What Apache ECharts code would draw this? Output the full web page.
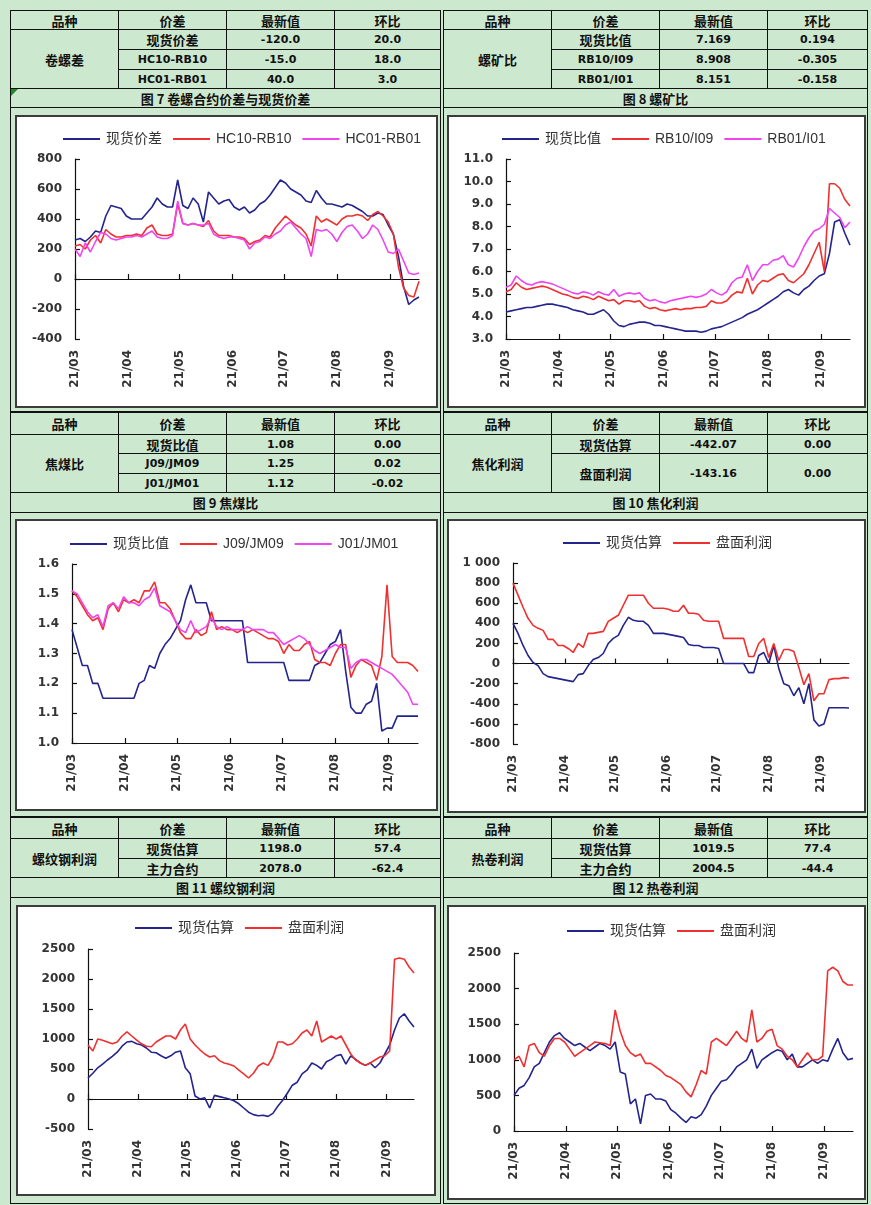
<!DOCTYPE html>
<html><head><meta charset="utf-8">
<script src="https://cdn.jsdelivr.net/npm/echarts/dist/echarts.min.js"></script>
<style>
html,body{margin:0;padding:0;}
body{width:871px;height:1205px;overflow:hidden;position:relative;background:#cce8cf;font-family:"DejaVu Sans","Noto Sans CJK SC",sans-serif;}
.cell{position:absolute;box-sizing:border-box;border:1px solid #111;display:flex;align-items:center;justify-content:center;color:#111;font-size:11px;font-weight:bold;white-space:nowrap;}
.cjk{font-family:"Noto Sans CJK SC",sans-serif;font-size:13px;font-weight:bold;}
.box{position:absolute;box-sizing:border-box;border:2px solid #3c3c3c;background:#fff;}
.chart{position:absolute;left:0;top:0;right:0;bottom:0;}
.tri{position:absolute;width:0;height:0;border-top:7px solid #1f8a2a;border-right:7px solid transparent;}
</style></head>
<body>
<script>
// ---------- axis categories / tick labels ----------
const monthLabels = ['21/03','21/04','21/05','21/06','21/07','21/08','21/09'];
const monthStartDays = [0,31,61,92,122,153,184];
const dayCount = 202;
const sampleStep = 3;

// ---------- series values (one value every 3 days from 21/03/01) ----------
const c7Spot = [260,270,250,280,320,310,420,490,480,470,
  420,400,400,400,440,480,540,500,480,480,
  660,490,470,540,500,380,580,540,500,520,
  530,480,460,480,440,460,500,520,560,610,
  660,640,600,580,560,520,510,590,540,500,
  500,490,480,500,490,470,450,420,420,440,
  430,360,300,150,-50,-170,-140,-120];
const c7HC10 = [220,230,200,260,290,240,330,300,280,280,
  290,290,300,290,340,360,300,290,290,300,
  500,370,360,370,360,350,390,320,290,290,
  290,280,280,270,230,250,260,290,280,340,
  380,420,390,360,340,300,220,420,380,400,
  380,360,400,420,420,430,420,390,430,450,
  420,380,300,80,-60,-110,-120,-15];
const c7HC01 = [200,150,240,180,250,310,300,270,260,270,
  280,280,290,280,300,320,280,270,270,290,
  520,370,360,370,360,360,370,300,280,270,
  280,280,270,260,200,240,250,280,270,300,
  320,360,380,340,300,270,150,330,320,330,
  300,250,310,350,360,320,270,300,360,330,
  260,180,170,200,120,40,30,40];

const c8Spot = [4.2,4.25,4.3,4.35,4.4,4.4,4.45,4.5,4.55,4.55,
  4.5,4.45,4.4,4.3,4.25,4.2,4.1,4.1,4.2,4.3,
  4.1,3.8,3.6,3.55,3.65,3.7,3.75,3.75,3.7,3.6,
  3.6,3.55,3.5,3.45,3.4,3.35,3.35,3.35,3.3,3.35,
  3.45,3.5,3.55,3.65,3.75,3.85,3.95,4.1,4.2,4.3,
  4.45,4.6,4.75,4.9,5.1,5.2,5.05,4.95,5.2,5.35,
  5.6,5.8,5.9,6.8,8.2,8.3,7.7,7.17];
const c8RB10 = [5.1,5.2,5.5,5.3,5.2,5.25,5.3,5.35,5.3,5.2,
  5.1,5.0,4.95,4.85,4.8,4.9,4.85,4.75,4.9,4.8,
  4.7,4.75,4.55,4.7,4.7,4.65,4.7,4.45,4.35,4.4,
  4.3,4.25,4.3,4.35,4.3,4.35,4.35,4.4,4.4,4.45,
  4.7,4.6,4.6,4.7,4.95,5.1,5.05,5.7,5.0,5.4,
  5.6,5.55,5.7,5.85,5.9,5.6,5.5,5.7,5.9,6.3,
  6.8,7.3,6.0,9.9,9.9,9.7,9.2,8.91];
const c8RB01 = [5.3,5.4,5.8,5.6,5.45,5.4,5.5,5.55,5.5,5.45,
  5.35,5.25,5.15,5.05,5.0,5.1,5.05,4.95,5.1,5.0,
  4.95,5.2,4.9,5.0,5.05,5.0,5.05,4.8,4.7,4.75,
  4.65,4.6,4.7,4.75,4.8,4.85,4.9,4.85,4.9,5.0,
  5.2,5.05,4.95,5.1,5.5,5.7,5.75,6.3,5.6,6.0,
  6.3,6.3,6.5,6.55,6.7,6.3,6.2,6.6,7.1,7.5,
  7.8,7.9,8.1,8.8,8.6,8.4,7.95,8.2];

const c9Spot = [1.38,1.32,1.26,1.26,1.2,1.2,1.15,1.15,1.15,1.15,
  1.15,1.15,1.15,1.2,1.21,1.26,1.25,1.3,1.33,1.35,
  1.38,1.41,1.48,1.53,1.47,1.47,1.47,1.41,1.41,1.41,
  1.41,1.41,1.41,1.41,1.27,1.27,1.27,1.27,1.27,1.27,
  1.27,1.27,1.21,1.21,1.21,1.21,1.21,1.26,1.27,1.3,
  1.33,1.34,1.38,1.24,1.12,1.1,1.1,1.13,1.14,1.2,
  1.04,1.05,1.05,1.09,1.09,1.09,1.09,1.09];
const c9J09 = [1.51,1.49,1.46,1.43,1.41,1.42,1.38,1.45,1.47,1.44,
  1.48,1.47,1.48,1.47,1.51,1.51,1.54,1.47,1.47,1.45,
  1.41,1.37,1.35,1.35,1.38,1.36,1.37,1.44,1.38,1.39,
  1.38,1.38,1.37,1.38,1.37,1.38,1.37,1.36,1.35,1.35,
  1.34,1.30,1.33,1.31,1.31,1.33,1.34,1.28,1.27,1.27,
  1.26,1.3,1.33,1.33,1.22,1.26,1.28,1.27,1.26,1.21,
  1.29,1.53,1.29,1.27,1.27,1.27,1.26,1.24];
const c9J01 = [1.51,1.50,1.47,1.44,1.42,1.43,1.39,1.46,1.47,1.45,
  1.49,1.47,1.47,1.46,1.48,1.49,1.52,1.46,1.45,1.44,
  1.41,1.38,1.37,1.41,1.37,1.38,1.39,1.42,1.39,1.38,
  1.39,1.38,1.38,1.38,1.39,1.38,1.38,1.38,1.37,1.37,
  1.35,1.33,1.34,1.35,1.36,1.35,1.33,1.31,1.30,1.31,
  1.32,1.33,1.32,1.32,1.25,1.27,1.28,1.28,1.27,1.26,
  1.25,1.24,1.23,1.21,1.19,1.17,1.13,1.13];

const c10Spot = [400,300,180,80,10,-20,-100,-130,-140,-150,
  -160,-170,-180,-110,-100,-20,40,60,100,200,
  250,280,380,460,430,420,420,380,300,300,
  300,290,280,270,260,190,180,180,160,160,
  160,150,0,0,0,0,0,-90,-90,80,
  110,0,180,-50,-200,-220,-320,-240,-400,-200,
  -560,-620,-600,-440,-440,-440,-440,-442];
const c10Disk = [800,680,560,450,380,350,330,240,240,180,
  180,150,110,200,160,300,300,310,320,420,
  450,480,580,680,680,680,680,600,550,550,
  550,540,520,520,580,500,500,490,430,420,
  420,420,250,250,250,250,250,70,70,200,
  250,60,200,30,140,140,120,-40,-210,-100,
  -370,-300,-300,-160,-150,-150,-140,-143];

const c11Spot = [350,430,520,580,650,710,780,880,950,960,
  920,900,850,780,770,720,680,720,780,800,
  520,420,50,0,20,-150,60,40,20,0,
  -30,-80,-150,-220,-260,-280,-270,-290,-240,-120,
  -20,100,230,280,420,480,600,560,500,620,
  660,720,740,580,720,660,600,560,600,520,
  600,750,900,1150,1350,1420,1300,1200];
const c11Disk = [900,800,1000,980,950,920,950,1050,1120,1050,
  980,920,880,870,950,1000,1050,1050,1000,1150,
  1250,1000,900,820,750,700,720,640,600,580,
  550,480,420,350,430,550,600,560,700,950,
  950,900,920,1000,1100,1150,1050,1300,950,1000,
  1050,1000,1050,900,750,650,600,560,600,650,
  700,720,800,2330,2350,2330,2200,2100];

const c12Spot = [500,600,640,750,900,950,1100,1250,1340,1380,
  1300,1250,1200,1230,1180,1130,1180,1230,1200,1150,
  1250,830,800,380,450,100,500,520,450,450,
  420,300,250,180,120,200,180,230,350,500,
  600,700,720,800,900,950,1000,1150,880,1000,
  1050,1100,1140,1120,1000,1080,900,900,950,1000,
  950,1000,980,1150,1300,1100,1000,1020];
const c12Disk = [1000,1050,900,1200,1230,1100,1050,1200,1300,1300,
  1250,1150,1050,1100,1150,1200,1250,1240,1230,1200,
  1700,1400,1200,1100,1050,1080,950,950,900,850,
  780,750,700,650,550,480,650,850,800,1250,
  1300,1250,1200,1300,1400,1300,1250,1700,1250,1300,
  1400,1430,1200,1150,1050,1000,900,1000,1100,1000,
  1000,1050,2250,2300,2250,2100,2050,2050];

// ---------- table texts ----------
const tableHeaders = ['品种','价差','最新值','环比'];
const t7Name = '卷螺差', t7Rows = [['现货价差','-120.0','20.0'],['HC10-RB10','-15.0','18.0'],['HC01-RB01','40.0','3.0']], t7Title = '图 7 卷螺合约价差与现货价差';
const t8Name = '螺矿比', t8Rows = [['现货比值','7.169','0.194'],['RB10/I09','8.908','-0.305'],['RB01/I01','8.151','-0.158']], t8Title = '图 8 螺矿比';
const t9Name = '焦煤比', t9Rows = [['现货比值','1.08','0.00'],['J09/JM09','1.25','0.02'],['J01/JM01','1.12','-0.02']], t9Title = '图 9 焦煤比';
const t10Name = '焦化利润', t10Rows = [['现货估算','-442.07','0.00'],['盘面利润','-143.16','0.00']], t10Title = '图 10 焦化利润';
const t11Name = '螺纹钢利润', t11Rows = [['现货估算','1198.0','57.4'],['主力合约','2078.0','-62.4']], t11Title = '图 11 螺纹钢利润';
const t12Name = '热卷利润', t12Rows = [['现货估算','1019.5','77.4'],['主力合约','2004.5','-44.4']], t12Title = '图 12 热卷利润';

// ---------- layout helpers ----------
const isCjk = s => /[\u4e00-\u9fff]/.test(s);
function cell(x1,y1,x2,y2,text){
  const d=document.createElement('div');
  d.className='cell'+(text && isCjk(text)?' cjk':'');
  d.style.left=x1+'px';d.style.top=y1+'px';
  d.style.width=(x2-x1+1)+'px';d.style.height=(y2-y1+1)+'px';
  if(text) d.textContent=text;
  document.body.appendChild(d);
}
function table(cols,hdr,rowYs,name,rows,titleY,title,chartY){
  tableHeaders.forEach((h,k)=>cell(cols[k],hdr[0],cols[k+1],hdr[1],h));
  cell(cols[0],rowYs[0][0],cols[1],rowYs[rowYs.length-1][1],name);
  rows.forEach((r,i)=>r.forEach((t,k)=>cell(cols[k+1],rowYs[i][0],cols[k+2],rowYs[i][1],t)));
  cell(cols[0],titleY[0],cols[4],titleY[1],title);
  cell(cols[0],chartY[0],cols[4],chartY[1],'');
}
const L=[10,118,226,334,440], R=[443,551,659,767,867];
table(L,[10,29],[[29,49],[49,69],[69,88]],t7Name,t7Rows,[88,107],t7Title,[107,411]);
table(R,[10,29],[[29,49],[49,69],[69,88]],t8Name,t8Rows,[88,107],t8Title,[107,411]);
table(L,[412,434],[[434,453],[453,473],[473,492]],t9Name,t9Rows,[492,512],t9Title,[512,816]);
table(R,[412,434],[[434,453],[453,492]],t10Name,t10Rows,[492,512],t10Title,[512,816]);
table(L,[817,838],[[838,858],[858,877]],t11Name,t11Rows,[877,897],t11Title,[897,1203]);
table(R,[817,838],[[838,858],[858,877]],t12Name,t12Rows,[877,897],t12Title,[897,1203]);
const tri=document.createElement('div');tri.className='tri';tri.style.left='11px';tri.style.top='89px';document.body.appendChild(tri);

// ---------- charts ----------
const NAVY='#24248e', RED='#f03030', MAG='#f044f0';
const dayCategories = Array.from({length:dayCount},()=> '');
monthStartDays.forEach((d,k)=>{dayCategories[d]=monthLabels[k];});
const isMonth = (i,v) => v !== '';

const chartDefs = [
 {box:[15,115,438,408], plot:[75,159,419,339], y:[-400,800,200], dec:0, leg:[58,135],
  series:[['现货价差',c7Spot,NAVY],['HC10-RB10',c7HC10,RED],['HC01-RB01',c7HC01,MAG]]},
 {box:[447,115,866,408], plot:[506,159,850,339], y:[3,11,1], dec:1, leg:[497,135],
  series:[['现货比值',c8Spot,NAVY],['RB10/I09',c8RB10,RED],['RB01/I01',c8RB01,MAG]]},
 {box:[15,519,438,811], plot:[72,564,418,743], y:[1.0,1.6,0.1], dec:1, leg:[65,540],
  series:[['现货比值',c9Spot,NAVY],['J09/JM09',c9J09,RED],['J01/JM01',c9J01,MAG]]},
 {box:[447,519,866,813], plot:[513,563,849,744], y:[-800,1000,200], dec:0, leg:[558,539], space1000:true,
  series:[['现货估算',c10Spot,NAVY],['盘面利润',c10Disk,RED]]},
 {box:[16,905,436,1196], plot:[88,949,414,1129], y:[-500,2500,500], dec:0, leg:[130,924],
  series:[['现货估算',c11Spot,NAVY],['盘面利润',c11Disk,RED]]},
 {box:[447,905,866,1200], plot:[514,953,853,1131], y:[0,2500,500], dec:0, leg:[562,927],
  series:[['现货估算',c12Spot,NAVY],['盘面利润',c12Disk,RED]]}
];

const axisFont = {fontFamily:'DejaVu Sans', fontSize:12, fontWeight:'bold', color:'#333'};
chartDefs.forEach(def=>{
  const [bx1,by1,bx2,by2]=def.box;
  const box=document.createElement('div');box.className='box';
  box.style.left=bx1+'px';box.style.top=by1+'px';
  box.style.width=(bx2-bx1)+'px';box.style.height=(by2-by1)+'px';
  const el=document.createElement('div');el.className='chart';box.appendChild(el);
  document.body.appendChild(box);
  const ox=bx1+2, oy=by1+2;
  const [px1,py1,px2,py2]=def.plot;
  const chart=echarts.init(el,null,{renderer:'canvas'});
  chart.setOption({
    animation:false,
    legend:{left:def.leg[0]-ox, top:def.leg[1]-oy-8, icon:'rect', itemWidth:37, itemHeight:2, itemGap:11,
      textStyle:{fontFamily:'Liberation Sans, Noto Sans CJK SC', fontSize:14, color:'#333', padding:[0,0,0,1]},
      data:def.series.map(s=>s[0])},
    grid:{left:px1-ox, top:py1-oy, width:px2-px1, height:py2-py1, containLabel:false, outerBoundsMode:'none'},
    xAxis:[
      {type:'category', data:dayCategories, boundaryGap:false, position:'bottom',
       axisLine:{show:false,onZero:false}, axisTick:{show:false}, splitLine:{show:false},
       axisLabel:Object.assign({interval:isMonth, rotate:90, margin:11}, axisFont)},
      {type:'category', data:dayCategories, boundaryGap:false, position:'bottom',
       axisLine:{show:true,onZero:true,lineStyle:{color:'#111',width:1.2}},
       axisTick:{show:true,inside:true,length:5,interval:isMonth,lineStyle:{color:'#111',width:1.2}},
       axisLabel:{show:false}, splitLine:{show:false}}
    ],
    yAxis:{type:'value', min:def.y[0], max:def.y[1], interval:def.y[2],
      axisLine:{show:true,lineStyle:{color:'#111',width:1.2}},
      axisTick:{show:true,inside:true,length:5,lineStyle:{color:'#111',width:1.2}},
      splitLine:{show:false},
      axisLabel:Object.assign({margin:13, formatter:v=>{
        if(def.space1000 && v===1000) return '1 000';
        return v.toFixed(def.dec);}}, axisFont)},
    series:def.series.map(s=>({
      name:s[0], type:'line', xAxisIndex:0, symbol:'none', smooth:false,
      color:s[2], lineStyle:{color:s[2], width:1.6},
      data:s[1].map((v,i)=>[i*sampleStep, v])
    }))
  });
});
</script>
</body></html>
